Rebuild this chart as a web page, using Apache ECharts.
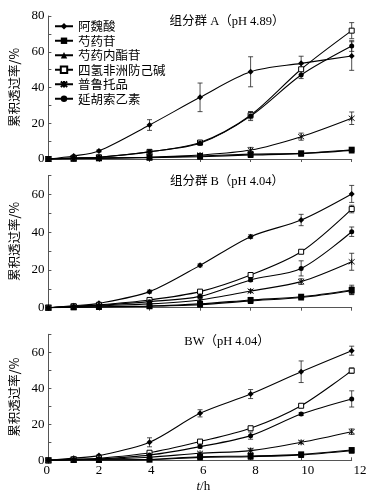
<!DOCTYPE html>
<html><head><meta charset="utf-8">
<script src="https://cdn.jsdelivr.net/npm/echarts@6/dist/echarts.min.js"></script>
<style>html,body{margin:0;padding:0;background:#fff}#c{width:374px;height:498px}</style>
</head><body><div id="c"></div>
<script>
// ---------- data ----------
const hours = [0, 1, 2, 4, 6, 8, 10, 12];
const xTickLabels = [0, 2, 4, 6, 8, 10, 12];
const seriesNames = ['阿魏酸', '芍药苷', '芍药内酯苷', '四氢非洲防己碱', '普鲁托品', '延胡索乙素'];
const panelTitles = ['组分群 A（pH 4.89）', '组分群 B（pH 4.04）', 'BW（pH 4.04）'];
const yMaxes = [80, 70, 70];

// Panel A (组分群 A)
const A_ferulic   = [0, 1.7, 4.5, 19.0, 34.5, 48.8, 53.5, 57.6];
const A_paeonif   = [0, 0.3, 0.5, 1.0, 1.7, 2.7, 3.2, 5.2];
const A_albif     = [0, 0.2, 0.4, 0.7, 1.3, 2.2, 3.0, 4.8];
const A_tetrandr  = [0, 0.6, 1.0, 4.0, 9.2, 24.5, 50.2, 71.8];
const A_protopine = [0, 0.3, 0.5, 1.0, 2.2, 5.0, 12.5, 22.8];
const A_thp       = [0, 0.5, 1.0, 4.1, 8.8, 24.0, 47.0, 63.2];
const A_ferulicErr   = [0, 0.4, 0.6, 3.0, 8.0, 8.4, 4.0, 8.0];
const A_paeonifErr   = [0, 0, 0, 0.3, 0.5, 0.8, 0.5, 0.6];
const A_albifErr     = [0, 0, 0, 0.3, 0.5, 1.0, 0.8, 0.6];
const A_tetrandrErr  = [0, 0, 0.3, 0.5, 1.0, 2.0, 3.0, 4.5];
const A_protopineErr = [0, 0, 0.2, 0.5, 0.8, 1.5, 2.0, 3.5];
const A_thpErr       = [0, 0, 0.3, 0.5, 1.0, 2.5, 2.0, 3.0];

// Panel B (组分群 B)
const B_ferulic   = [0, 1.0, 2.3, 8.5, 22.4, 37.6, 46.4, 60.2];
const B_paeonif   = [0, 0.3, 0.5, 0.9, 2.0, 4.1, 5.8, 9.4];
const B_albif     = [0, 0.2, 0.4, 0.8, 1.6, 3.6, 5.4, 9.0];
const B_tetrandr  = [0, 0.8, 1.5, 4.1, 8.5, 17.3, 29.6, 52.2];
const B_protopine = [0, 0.5, 1.0, 2.0, 4.1, 8.8, 13.8, 24.3];
const B_thp       = [0, 0.6, 1.2, 3.2, 6.0, 14.7, 20.8, 40.2];
const B_ferulicErr   = [0, 0.3, 0.5, 0.8, 0.8, 1.0, 3.0, 4.5];
const B_paeonifErr   = [0, 0, 0.3, 0.3, 0.3, 0.5, 0.8, 2.5];
const B_albifErr     = [0, 0, 0.3, 0.3, 0.3, 0.5, 0.8, 2.0];
const B_tetrandrErr  = [0, 0, 0.3, 0.5, 0.5, 0.8, 0.8, 2.0];
const B_protopineErr = [0, 0, 0.3, 0.5, 0.5, 0.8, 1.5, 4.5];
const B_thpErr       = [0, 0, 0.3, 0.5, 0.5, 0.8, 4.0, 2.5];

// Panel C (BW)
const C_ferulic   = [0, 1.2, 2.6, 10.0, 26.1, 36.8, 49.2, 60.9];
const C_paeonif   = [0, 0.2, 0.2, 0.5, 2.0, 2.4, 3.3, 5.7];
const C_albif     = [0, 0.1, 0.2, 0.4, 1.6, 2.0, 3.0, 5.3];
const C_tetrandr  = [0, 0.6, 1.1, 4.2, 10.4, 17.8, 30.3, 49.8];
const C_protopine = [0, 0.4, 0.5, 1.7, 3.9, 5.4, 10.0, 15.9];
const C_thp       = [0, 0.5, 0.8, 2.9, 7.6, 13.7, 25.7, 34.1];
const C_ferulicErr   = [0, 0.3, 0.5, 2.5, 2.0, 2.5, 6.0, 2.5];
const C_paeonifErr   = [0, 0, 0, 0.3, 0.3, 0.5, 0.5, 0.5];
const C_albifErr     = [0, 0, 0, 0.3, 0.3, 0.5, 0.5, 0.5];
const C_tetrandrErr  = [0, 0, 0.3, 0.5, 0.5, 0.8, 1.0, 1.5];
const C_protopineErr = [0, 0, 0.3, 0.5, 0.5, 1.2, 0.8, 1.5];
const C_thpErr       = [0, 0, 0.3, 0.5, 0.8, 2.0, 0.8, 4.5];

const panels = [
  [A_ferulic, A_paeonif, A_albif, A_tetrandr, A_protopine, A_thp],
  [B_ferulic, B_paeonif, B_albif, B_tetrandr, B_protopine, B_thp],
  [C_ferulic, C_paeonif, C_albif, C_tetrandr, C_protopine, C_thp]
];
const panelErrs = [
  [A_ferulicErr, A_paeonifErr, A_albifErr, A_tetrandrErr, A_protopineErr, A_thpErr],
  [B_ferulicErr, B_paeonifErr, B_albifErr, B_tetrandrErr, B_protopineErr, B_thpErr],
  [C_ferulicErr, C_paeonifErr, C_albifErr, C_tetrandrErr, C_protopineErr, C_thpErr]
];

// ---------- styling ----------
const SERIF = "'Liberation Serif','Times New Roman',serif";
const CJK = "'Noto Sans CJK SC','Liberation Serif',sans-serif";
const asterisk = 'path://M0,0L10,10M10,0L0,10M5,-1L5,11';
const markerStyles = [
  {symbol: 'diamond', symbolSize: 6, itemStyle: {color: '#000'}},
  {symbol: 'rect', symbolSize: 6, itemStyle: {color: '#000'}},
  {symbol: 'triangle', symbolSize: 6, itemStyle: {color: '#000'}},
  {symbol: 'rect', symbolSize: 5, itemStyle: {color: '#fff', borderColor: '#000', borderWidth: 1}},
  {symbol: asterisk, symbolSize: 6, itemStyle: {color: '#000', borderColor: '#000', borderWidth: 0.9}},
  {symbol: 'circle', symbolSize: 5, itemStyle: {color: '#000'}}
];

const gridBoxes = [
  {left: 46.7, width: 305, top: 16, height: 143},
  {left: 46.7, width: 305, top: 175.4, height: 132.3},
  {left: 46.7, width: 305, top: 334.3, height: 126},
  {left: 46.7, width: 313.3, top: 334.3, height: 126}
];

function renderErr(params, api) {
  const x = api.value(0), y = api.value(1), e = api.value(2);
  if (!e) return null;
  const hi = api.coord([x, y + e]), lo = api.coord([x, y - e]);
  const w = 2.5;
  const st = {stroke: '#222', lineWidth: 0.8};
  return {type: 'group', children: [
    {type: 'line', shape: {x1: hi[0], y1: hi[1], x2: lo[0], y2: lo[1]}, style: st},
    {type: 'line', shape: {x1: hi[0] - w, y1: hi[1], x2: hi[0] + w, y2: hi[1]}, style: st},
    {type: 'line', shape: {x1: lo[0] - w, y1: lo[1], x2: lo[0] + w, y2: lo[1]}, style: st}
  ]};
}

const xAxes = [], yAxes = [], series = [];
for (let p = 0; p < 3; p++) {
  xAxes.push({
    type: 'value', gridIndex: p, min: 0, max: 12, interval: 2,
    axisLine: {show: true, onZero: false, lineStyle: {color: '#555', width: 1}},
    axisTick: {show: true, inside: p === 2, length: 3, lineStyle: {color: '#555'}},
    axisLabel: {show: false}, splitLine: {show: false}
  });
  yAxes.push({
    type: 'value', gridIndex: p, min: 0, max: yMaxes[p], interval: 10,
    name: '累积透过率/%', nameLocation: 'middle', nameGap: 24,
    nameTextStyle: {fontFamily: CJK, fontSize: 12.5, color: '#000'},
    axisLine: {show: true, lineStyle: {color: '#555', width: 1}},
    axisTick: {show: true, inside: true, length: 3, lineStyle: {color: '#555'}},
    axisLabel: {fontFamily: SERIF, fontSize: 13, color: '#000', margin: 4,
      formatter: v => (v % 20 === 0 ? String(v) : '')},
    splitLine: {show: false}
  });
  for (let s = 0; s < 6; s++) {
    series.push(Object.assign({
      type: 'line', name: seriesNames[s], xAxisIndex: p, yAxisIndex: p,
      data: hours.map((t, i) => [t, panels[p][s][i]]),
      smooth: 0.3, lineStyle: {color: '#000', width: 1.1}, z: 3 + s * 0.01
    }, JSON.parse(JSON.stringify(markerStyles[s]))));
    series.push({
      type: 'custom', name: 'err' + p + s, xAxisIndex: p, yAxisIndex: p, silent: true,
      renderItem: renderErr, encode: {x: 0, y: 1}, z: 2,
      data: hours.map((t, i) => [t, panels[p][s][i], panelErrs[p][s][i]])
    });
  }
}
// label axis for bottom panel
xAxes.push({
  type: 'value', gridIndex: 3, min: 0, max: 12, interval: 2,
  axisLine: {show: false}, axisTick: {show: false}, splitLine: {show: false},
  axisLabel: {fontFamily: SERIF, fontSize: 13, color: '#000', margin: 4,
    formatter: v => (xTickLabels.indexOf(v) >= 0 ? String(v) : '')},
  name: '{i|t}{n|/h}', nameLocation: 'middle', nameGap: 20,
  nameTextStyle: {rich: {
    i: {fontFamily: SERIF, fontStyle: 'italic', fontSize: 13, color: '#000'},
    n: {fontFamily: SERIF, fontSize: 13, color: '#000'}
  }}
});
yAxes.push({type: 'value', gridIndex: 3, min: 0, max: 70, show: false});

const option = {
  animation: false,
  backgroundColor: '#fff',
  grid: gridBoxes,
  xAxis: xAxes,
  yAxis: yAxes,
  legend: {
    data: seriesNames, orient: 'vertical', left: 54, top: 20, padding: 0,
    itemWidth: 18, itemHeight: 8, itemGap: 2, selectedMode: false,
    textStyle: {fontFamily: CJK, fontSize: 12.5, color: '#000', padding: [0, 0, 0, 0]}
  },
  graphic: panelTitles.map((t, i) => ({
    type: 'text', x: 227, y: [22, 182, 342][i],
    style: {text: t, font: "12.5px 'Liberation Serif','Noto Sans CJK SC'", fill: '#000',
      textAlign: 'center', textVerticalAlign: 'middle'}
  })),
  series: series
};
const chart = echarts.init(document.getElementById('c'), null, {renderer: 'canvas'});
chart.setOption(option);
</script>
</body></html>
